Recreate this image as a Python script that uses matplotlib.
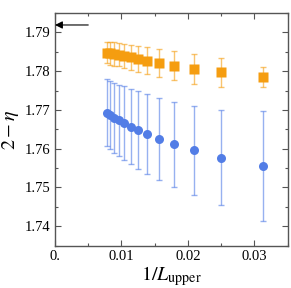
import numpy as np
import matplotlib.pyplot as plt
from matplotlib.ticker import MultipleLocator, FuncFormatter

plt.rcParams['font.family'] = ['Liberation Serif', 'DejaVu Serif']
plt.rcParams['mathtext.fontset'] = 'stix'

# ---------- Data ----------
L = np.array([128, 120, 112, 104, 96, 88, 80, 72, 64, 56, 48, 40, 32])
x = 1.0 / L

eta_circ = np.array([1.7693, 1.7686, 1.7680, 1.7673, 1.7666, 1.7657, 1.7648,
                     1.7638, 1.7625, 1.7611, 1.7596, 1.7577, 1.7555])
err_circ = np.array([0.0086, 0.0088, 0.0090, 0.0092, 0.0095, 0.0097, 0.0100,
                     0.0103, 0.0106, 0.0110, 0.0115, 0.0123, 0.0142])

eta_sq = np.array([1.7848, 1.7846, 1.7844, 1.7842, 1.7839, 1.7836, 1.7832,
                   1.7827, 1.7821, 1.7814, 1.7805, 1.7797, 1.7785])
err_sq = np.array([0.0028, 0.0029, 0.0030, 0.0030, 0.0031, 0.0032, 0.0033,
                   0.0034, 0.0035, 0.0038, 0.0038, 0.0038, 0.0025])

arrow_y = 1.7919

blue = '#527de6'
orange = '#f59d10'

# ---------- Plot ----------
fig = plt.figure(figsize=(2.91, 2.88), dpi=100)
ax = fig.add_axes([0.189, 0.147, 0.7997, 0.808])

ax.errorbar(x, eta_circ, yerr=err_circ, fmt='none', ecolor=blue, alpha=0.6,
            elinewidth=1.0, capsize=2.2, capthick=1.0)
ax.plot(x, eta_circ, 'o', color=blue, ms=6.5, mec='none')

ax.errorbar(x, eta_sq, yerr=err_sq, fmt='none', ecolor=orange, alpha=0.6,
            elinewidth=1.0, capsize=2.2, capthick=1.0)
ax.plot(x, eta_sq, 's', color=orange, ms=7, mec='none')

ax.annotate('', xy=(0.0, arrow_y), xytext=(0.005, arrow_y),
            arrowprops=dict(arrowstyle='-|>', color='black', lw=0.8,
                            mutation_scale=11, shrinkA=0, shrinkB=0))

ax.set_xlim(0, 0.035)
ax.set_ylim(1.735, 1.795)

ax.xaxis.set_major_locator(MultipleLocator(0.01))
ax.xaxis.set_minor_locator(MultipleLocator(0.005))
ax.yaxis.set_major_locator(MultipleLocator(0.01))
ax.yaxis.set_minor_locator(MultipleLocator(0.005))
ax.xaxis.set_major_formatter(FuncFormatter(lambda v, p: '0.' if abs(v) < 1e-12 else f'{v:.2f}'))
ax.yaxis.set_major_formatter(FuncFormatter(lambda v, p: f'{v:.2f}'))

for s in ax.spines.values():
    s.set_color('#555555')
    s.set_linewidth(1.0)

ax.tick_params(which='both', direction='in', top=True, right=True,
               color='#555555', labelsize=10.5, pad=3)
ax.tick_params(which='major', length=4, width=0.8)
ax.tick_params(which='minor', length=2.5, width=0.8)

ax.set_xlabel(r'$1/L_{\mathrm{upper}}$', fontsize=14.5, labelpad=1)
ax.set_ylabel(r'$2-\eta$', fontsize=14.5, labelpad=3)

plt.savefig('out.png', dpi=100)
